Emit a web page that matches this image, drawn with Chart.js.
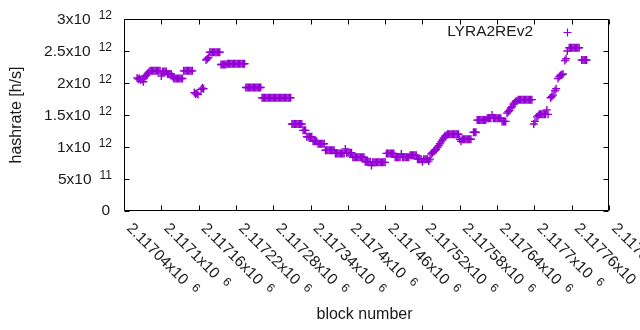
<!DOCTYPE html>
<html>
<head>
<meta charset="utf-8">
<script src="https://cdn.jsdelivr.net/npm/chart.js@4/dist/chart.umd.min.js"></script>
<style>
html,body{margin:0;padding:0;background:#fff;}
#wrap{width:640px;height:330px;position:relative;}
</style>
</head>
<body>
<div id="wrap"><canvas id="c" width="640" height="330"></canvas></div>
<script>
// ---- data ----
const seriesName = 'LYRA2REv2';
const blockBase = 2117000;          // block numbers stored as offsets from this
const hashUnit = 1e12;              // hashrate stored in units of 10^12 h/s
// [block - blockBase, hashrate / 1e12]
const lyra2rev2 = [
 [61,2.08],[63,2.06],[65,2.07],[67,2.05],[69,2.06],[71,2.02],[72,2.07],
 [74,2.10],[76,2.12],[78,2.15],[80,2.17],
 [82,2.19],[84,2.19],[86,2.19],[88,2.19],[90,2.19],[92,2.19],[94,2.19],[96,2.19],[98,2.19],
 [100,2.11],
 [102,2.18],[104,2.18],[106,2.18],[108,2.18],[110,2.14],[112,2.14],[114,2.14],[116,2.14],[118,2.10],
 [120,2.07],[122,2.07],[124,2.07],[126,2.07],[128,2.07],[130,2.07],[132,2.07],[134,2.07],
 [136,2.19],[138,2.19],[140,2.19],[142,2.19],[144,2.19],[146,2.19],[148,2.19],[150,2.19],
 [153,1.85],[155,1.83],[157,1.84],[159,1.82],
 [164,1.90],[166,1.92],[168,1.91],
 [172,2.36],[174,2.38],[176,2.40],
 [178,2.48],[180,2.48],[182,2.48],[184,2.48],[186,2.48],[188,2.48],[190,2.48],[192,2.48],[194,2.48],
 [196,2.29],[198,2.29],[200,2.29],[202,2.29],[204,2.29],[206,2.30],[208,2.30],[210,2.30],[212,2.30],[214,2.30],
 [216,2.30],[218,2.30],[220,2.30],[222,2.30],[224,2.30],[226,2.30],[228,2.30],[230,2.30],[232,2.30],[234,2.30],
 [236,1.93],[238,1.93],[240,1.93],[242,1.93],[244,1.93],[246,1.93],[248,1.93],[250,1.93],[252,1.93],[254,1.93],
 [256,1.93],[258,1.93],[260,1.93],
 [262,1.77],[264,1.77],[266,1.77],[268,1.77],[270,1.77],[272,1.77],[274,1.77],[276,1.77],[278,1.77],[280,1.77],
 [282,1.77],[284,1.77],[286,1.77],[288,1.77],[290,1.77],[292,1.77],[294,1.77],[296,1.77],[298,1.77],[300,1.77],
 [302,1.77],[304,1.77],[306,1.77],[308,1.77],
 [310,1.36],[312,1.36],[314,1.36],[316,1.36],[318,1.36],[320,1.36],[322,1.36],[324,1.36],[326,1.36],
 [328,1.26],[330,1.26],[332,1.26],
 [334,1.16],[336,1.16],[338,1.16],[340,1.16],[342,1.16],
 [344,1.09],[346,1.09],[348,1.09],[350,1.09],
 [352,1.05],[354,1.05],[356,1.05],[358,1.05],[360,1.05],[362,1.05],
 [364,0.95],[366,0.95],[368,0.95],[370,0.95],[372,0.95],[374,0.95],[376,0.95],[378,0.95],
 [380,0.90],[382,0.90],[384,0.90],[386,0.90],[388,0.90],[390,0.90],[392,0.90],[394,0.90],
 [396,0.97],
 [398,0.91],[400,0.91],[402,0.91],[404,0.91],[406,0.91],
 [408,0.84],[410,0.84],[412,0.84],[414,0.84],[416,0.84],[418,0.84],[420,0.84],[422,0.84],[424,0.84],[426,0.84],
 [428,0.77],[430,0.77],[432,0.77],[434,0.77],[436,0.77],
 [438,0.71],
 [440,0.76],[442,0.76],[444,0.76],[446,0.76],[448,0.76],[450,0.76],[452,0.76],[454,0.76],[456,0.76],[458,0.76],[460,0.76],
 [462,0.90],[464,0.90],[466,0.90],[468,0.90],[470,0.90],[472,0.90],[474,0.90],
 [476,0.84],[478,0.84],[480,0.84],[482,0.84],[484,0.84],[486,0.89],[488,0.84],[490,0.84],[492,0.84],[494,0.84],[496,0.84],[498,0.84],
 [500,0.87],[502,0.87],[504,0.87],[506,0.87],[508,0.87],[510,0.87],
 [512,0.81],[514,0.81],[516,0.81],[518,0.81],[520,0.77],[522,0.81],[524,0.81],[526,0.81],[528,0.81],[530,0.78],[532,0.81],
 [534,0.89],[536,0.91],[538,0.93],[540,0.95],[542,0.96],[544,0.99],
 [546,1.02],[548,1.05],[550,1.08],[552,1.11],[554,1.14],
 [556,1.17],[558,1.18],
 [560,1.20],[562,1.20],[564,1.20],[566,1.20],[568,1.20],[570,1.20],[572,1.20],[574,1.20],[576,1.20],[578,1.20],
 [580,1.12],[582,1.09],[584,1.12],[586,1.12],[588,1.12],[590,1.12],[592,1.12],[594,1.12],[596,1.12],[598,1.12],
 [602,1.23],[604,1.23],[606,1.23],
 [608,1.42],[610,1.42],[612,1.42],[614,1.42],[616,1.42],[618,1.42],[620,1.42],[622,1.42],
 [624,1.45],[626,1.45],[628,1.45],[630,1.45],[632,1.50],[634,1.45],[636,1.45],[638,1.45],[640,1.45],[642,1.45],[644,1.45],[646,1.45],
 [648,1.40],[650,1.40],[652,1.40],[654,1.40],
 [656,1.53],[658,1.55],[660,1.57],
 [662,1.61],[664,1.63],
 [666,1.67],[668,1.69],[670,1.71],[672,1.72],
 [674,1.74],[676,1.74],[678,1.74],[680,1.74],[682,1.74],[684,1.74],[686,1.74],[688,1.74],[690,1.74],[692,1.74],[694,1.74],[696,1.74],
 [699,1.36],[701,1.40],
 [704,1.47],[706,1.49],
 [708,1.51],[710,1.51],[712,1.51],[714,1.51],[716,1.51],[718,1.51],[720,1.58],[722,1.51],
 [726,1.77],[728,1.79],[730,1.81],
 [733,1.88],[735,1.91],
 [738,2.07],[740,2.10],
 [742,2.12],[744,2.13],[746,2.14],
 [749,2.35],[751,2.38],
 [753,2.50],
 [756,2.55],[758,2.55],[760,2.55],[762,2.55],[764,2.55],[766,2.55],[768,2.55],[770,2.55],[772,2.55],
 [776,2.36],[778,2.36],[780,2.36],[782,2.36],[784,2.36]
];
const xMin = 2117040, xMax = 2117820, xStep = 60;
const yMin = 0, yMax = 3e12, yStep = 5e11;
const xTitle = 'block number';
const yTitle = 'hashrate [h/s]';

// ---- styles ----
const COLOR = '#9400d3';
const FONT = '"Liberation Sans", Arial, sans-serif';
const MAINF = '15.5px ' + FONT;
const SUPF = '12px ' + FONT;

function sciParts(v) {
  if (v === 0) return ['0', ''];
  const e = Math.floor(Math.log10(Math.abs(v)) + 1e-9);
  const m = Number((v / Math.pow(10, e)).toPrecision(6));
  return [m + 'x10', String(e)];
}

const gnuplotFrame = {
  id: 'gnuplotFrame',
  afterDraw(chart) {
    const ctx = chart.ctx;
    const {left, right, top, bottom} = chart.chartArea;
    const xs = chart.scales.x, ys = chart.scales.y;
    ctx.save();
    ctx.strokeStyle = '#000';
    ctx.lineWidth = 1;
    const L = Math.floor(left) + 0.5, R = Math.ceil(right) - 0.5;
    const T = Math.floor(top) + 0.5, B = Math.ceil(bottom) - 0.5;
    ctx.beginPath();
    ctx.rect(L, T, R - L, B - T);
    const tl = 5;
    for (let v = xMin; v <= xMax + 1e-6; v += xStep) {
      const px = Math.round(xs.getPixelForValue(v)) + 0.5;
      ctx.moveTo(px, B); ctx.lineTo(px, B - tl);
      ctx.moveTo(px, T); ctx.lineTo(px, T + tl);
    }
    for (let v = yMin; v <= yMax + 1; v += yStep) {
      const py = Math.round(ys.getPixelForValue(v)) + 0.5;
      ctx.moveTo(L, py); ctx.lineTo(L + tl, py);
      ctx.moveTo(R, py); ctx.lineTo(R - tl, py);
    }
    ctx.stroke();

    ctx.fillStyle = '#1a1a1a';
    // y tick labels
    const supRight = 112;
    for (let v = yMin; v <= yMax + 1; v += yStep) {
      const py = ys.getPixelForValue(v);
      const [main, sup] = sciParts(v);
      ctx.textBaseline = 'middle';
      ctx.textAlign = 'right';
      if (!sup) {
        ctx.font = MAINF;
        ctx.fillText(main, 110, py);
      } else {
        ctx.font = SUPF;
        const sw = ctx.measureText(sup).width;
        ctx.fillText(sup, supRight, py - 3);
        ctx.font = MAINF;
        ctx.fillText(main, supRight - sw - 8, py + 1);
      }
    }
    // x tick labels rotated by 45 degrees
    for (let v = xMin; v <= xMax + 1e-6; v += xStep) {
      const px = xs.getPixelForValue(v);
      const [main, sup] = sciParts(v);
      ctx.save();
      ctx.translate(px + 5, bottom + 15);
      ctx.rotate(Math.PI / 4);
      ctx.textAlign = 'left';
      ctx.textBaseline = 'middle';
      ctx.font = MAINF;
      ctx.fillText(main, 0, 0);
      const mw = ctx.measureText(main).width;
      ctx.font = SUPF;
      ctx.fillText(sup, mw + 8, -3);
      ctx.restore();
    }
    // axis titles
    ctx.font = '16px ' + FONT;
    ctx.textAlign = 'center';
    ctx.textBaseline = 'middle';
    ctx.fillText(xTitle, (left + right) / 2 - 2, 315);
    ctx.save();
    ctx.translate(17, (top + bottom) / 2);
    ctx.rotate(-Math.PI / 2);
    ctx.fillText(yTitle, 0, 0);
    ctx.restore();
    // legend
    ctx.font = MAINF;
    ctx.textAlign = 'right';
    ctx.fillText(seriesName, 533, 32);
    ctx.strokeStyle = COLOR;
    ctx.lineWidth = 1.2;
    ctx.beginPath();
    ctx.moveTo(563.5, 32.5); ctx.lineTo(571.5, 32.5);
    ctx.moveTo(567.5, 28.5); ctx.lineTo(567.5, 36.5);
    ctx.stroke();
    ctx.restore();
  }
};

new Chart(document.getElementById('c'), {
  type: 'scatter',
  data: {
    datasets: [{
      label: seriesName,
      data: lyra2rev2.map(p => ({x: blockBase + p[0], y: p[1] * hashUnit})),
      pointStyle: 'cross',
      radius: 4,
      borderWidth: 1.4,
      borderColor: COLOR,
      backgroundColor: COLOR
    }]
  },
  options: {
    responsive: false,
    animation: false,
    events: [],
    layout: {padding: {left: 124, right: 31, top: 19, bottom: 119}},
    plugins: {legend: {display: false}, tooltip: {enabled: false}},
    scales: {
      x: {type: 'linear', display: false, min: xMin, max: xMax},
      y: {type: 'linear', display: false, min: yMin, max: yMax}
    }
  },
  plugins: [gnuplotFrame]
});
</script>
</body>
</html>
